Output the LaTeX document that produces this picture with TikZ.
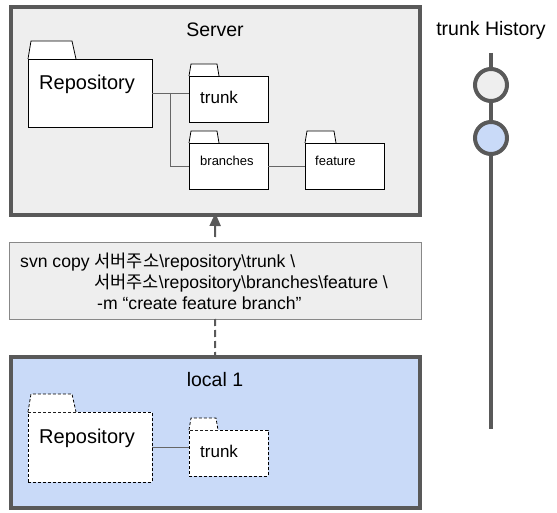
\documentclass[tikz,border=0pt]{standalone}
\usepackage{fontspec}
\setmainfont{Liberation Sans}
\newfontfamily\krfont{Noto Sans CJK KR}
\usetikzlibrary{arrows.meta,calc}
\definecolor{boxgray}{HTML}{595959}
\definecolor{servfill}{HTML}{EEEEEE}
\definecolor{localfill}{HTML}{C9DAF8}
\definecolor{linkgray}{HTML}{666666}
\definecolor{cmdborder}{HTML}{888888}
\newcommand{\fs}[1]{\fontsize{#1}{#1}\selectfont}
\newcommand{\kr}[1]{{\krfont #1}}
\tikzset{
  bigbox/.style={draw=boxgray, line width=4pt, rectangle, inner sep=0pt, outer sep=0pt},
  folderbody/.style={draw=black, fill=white, line width=0.8pt, rectangle, inner sep=0pt, outer sep=0pt},
  foldertab/.style={draw=black, fill=white, line width=0.8pt},
  dashline/.style={dash pattern=on 3pt off 2pt},
  link/.style={draw=linkgray, line width=0.9pt},
  title/.style={font=\fs{19.5}, inner sep=0pt},
  lbl/.style={anchor=base west, inner sep=0pt},
  hist/.style={circle, draw=boxgray, line width=4pt, minimum size=32pt, inner sep=0pt, outer sep=0pt}
}
\begin{document}
\begin{tikzpicture}[x=1pt,y=-1pt]
\useasboundingbox (0,0) rectangle (557,513);

% ---------- Server ----------
\node[bigbox, fill=servfill, minimum width=409.5pt, minimum height=207.5pt] (server) at (215.25,111.25) {};
\node[title] (servertitle) at (215,30) {Server};

% Repository
\node[folderbody, minimum width=124pt, minimum height=68pt] (repo) at (90,93) {};
\draw[foldertab] (repo.north west) -- ++(3,-18) -- ++(41,0) -- ++(4,18);
\node[lbl, font=\fs{20}] (repotxt) at (39,90) {Repository};

% trunk
\node[folderbody, minimum width=79pt, minimum height=46pt] (trunk) at (228.5,99) {};
\draw[foldertab] (trunk.north west) -- ++(2,-12) -- ++(26,0) -- ++(2,12);
\node[lbl, font=\fs{17}] (trunktxt) at (200,104) {trunk};

% branches
\node[folderbody, minimum width=79pt, minimum height=46pt] (branches) at (228.5,166) {};
\draw[foldertab] (branches.north west) -- ++(2,-12) -- ++(26,0) -- ++(2,12);
\node[lbl, font=\fs{13}] (branchestxt) at (200,166) {branches};

% feature
\node[folderbody, minimum width=79pt, minimum height=46pt] (feature) at (344.5,166) {};
\draw[foldertab] (feature.north west) -- ++(2,-12) -- ++(27,0) -- ++(2,12);
\node[lbl, font=\fs{13}] (featuretxt) at (315,166) {feature};

% links
\coordinate (j) at ($(repo.east)!0.5!(repo.east -| trunk.west)$);
\draw[link] (repo.east) -- (repo.east -| trunk.west);
\draw[link] (j) |- (branches.west);
\draw[link] (branches.east) -- (feature.west);

% ---------- command ----------
\node[draw=cmdborder, fill=servfill, line width=1pt, minimum width=412pt, minimum height=76pt, inner sep=0pt, outer sep=0pt] (cmd) at (215,281) {};
\node[lbl, font=\fs{17.6}] (cmd1) at (20,267) {svn copy \kr{서버주소}\textbackslash repository\textbackslash trunk \textbackslash};
\node[lbl, font=\fs{17.6}] (cmd2) at (94,288) {\kr{서버주소}\textbackslash repository\textbackslash branches\textbackslash feature \textbackslash};
\node[lbl, font=\fs{17.6}] (cmd3) at (97,309) {-m “create feature branch”};

% ---------- local ----------
\node[bigbox, fill=localfill, minimum width=409.5pt, minimum height=151pt] (local) at (215.25,432.5) {};
\node[title] (localtitle) at (215,380) {local 1};

\node[folderbody, dashline, minimum width=124pt, minimum height=70pt] (lrepo) at (90,447) {};
\draw[foldertab, dashline] (lrepo.north west) -- ++(3,-18) -- ++(41,0) -- ++(4,18);
\node[lbl, font=\fs{20}] (lrepotxt) at (39,443) {Repository};

\node[folderbody, dashline, minimum width=79pt, minimum height=46pt] (ltrunk) at (228.5,453) {};
\draw[foldertab, dashline] (ltrunk.north west) -- ++(2,-12) -- ++(25,0) -- ++(2,12);
\node[lbl, font=\fs{17}] (ltrunktxt) at (200,457) {trunk};

\draw[link] (lrepo.east) -- (lrepo.east -| ltrunk.west);

% ---------- connectors between boxes ----------
\draw[draw=boxgray, line width=2pt, shorten <=6pt, shorten >=-2pt, -{Triangle[width=11pt,length=13pt]}, boxgray] (cmd.north) -- (server.south);
\draw[draw=boxgray, line width=2pt, dash pattern=on 7pt off 4pt] (cmd.south) -- (local.north);

% ---------- trunk history ----------
\node[title] (histtitle) at (491,30) {trunk History};
\coordinate (htop) at (491,53);
\coordinate (hbot) at (491,429);
\draw[draw=boxgray, line width=4pt] (htop) -- (hbot);
\node[hist, fill=servfill] (c1) at (491,85) {};
\node[hist, fill=localfill] (c2) at (491,138) {};
\end{tikzpicture}
\end{document}
